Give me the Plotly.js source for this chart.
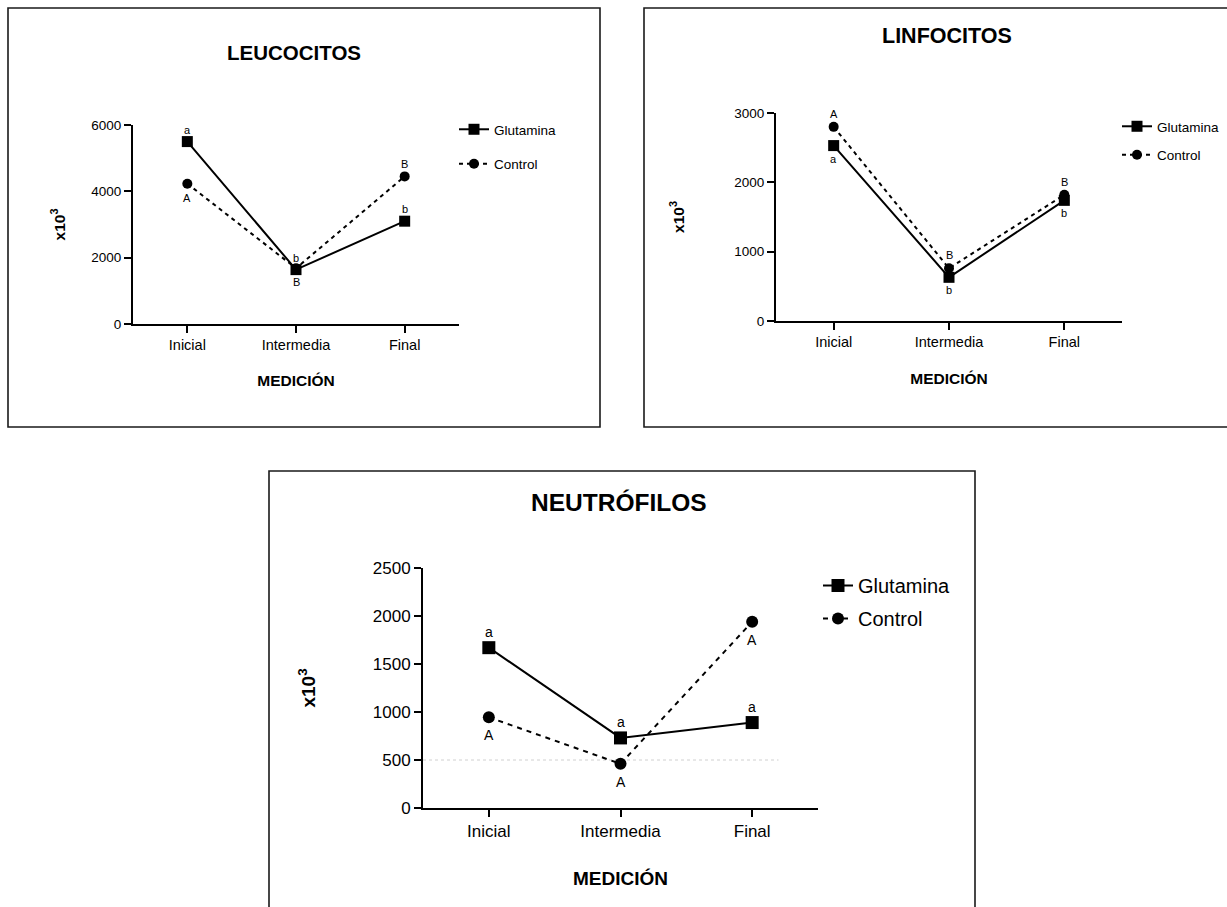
<!DOCTYPE html>
<html>
<head>
<meta charset="utf-8">
<script src="https://cdn.plot.ly/plotly-3.0.1.min.js"></script>
<style>html,body{margin:0;padding:0;background:#fff;}#chart{width:1227px;height:907px;}</style>
</head>
<body>
<div id="chart"></div>
<script>
// ---------- DATA ----------
const categories = ['Inicial', 'Intermedia', 'Final'];
const seriesNames = ['Glutamina', 'Control'];
const panelTitles = ['LEUCOCITOS', 'LINFOCITOS', 'NEUTRÓFILOS'];
const xAxisTitle = 'MEDICIÓN';
const yAxisTitle = 'x10<sup>3</sup>';

const leucGlutamina = [5500, 1640, 3100];
const leucControl = [4230, 1680, 4450];
const leucGlutLetters = ['a', 'b', 'b'];
const leucControlLetters = ['A', 'B', 'B'];
const leucTicks = [0, 2000, 4000, 6000];

const linfGlutamina = [2530, 630, 1740];
const linfControl = [2800, 760, 1820];
const linfGlutLetters = ['a', 'b', 'b'];
const linfControlLetters = ['A', 'B', 'B'];
const linfTicks = [0, 1000, 2000, 3000];

const neutGlutamina = [1670, 730, 890];
const neutControl = [945, 460, 1940];
const neutGlutLetters = ['a', 'a', 'a'];
const neutControlLetters = ['A', 'A', 'A'];
const neutTicks = [0, 500, 1000, 1500, 2000, 2500];
const neutRefLine = 500;

// ---------- LAYOUT CONFIG ----------
const W = 1227, H = 907;
const px = v => v / W;
const py = v => 1 - v / H;
const FONT = 'Liberation Sans, Arial, Helvetica, sans-serif';

const panels = [
  {
    glut: leucGlutamina, ctrl: leucControl, gl: leucGlutLetters, cl: leucControlLetters, ticks: leucTicks,
    title: panelTitles[0],
    xdom: [133, 459], ydom: [125, 324],
    box: [8, 8, 600, 427],
    titlePos: [294, 52], titleSize: 20.5,
    tickSize: 13.5, xtickSize: 14.5, axTitleSize: 15.5, letterSize: 11,
    ystand: 22, xstand: 23,
    legendPos: [454, 114], legendSize: 13.5, legendGap: 14,
    glutShift: [1, 1, 1], ctrlShift: [-1, -1, 1], up: 12, down: 14,
    msq: 11, mci: 10, dash: '4px,4px', order: 'ctrlFirst'
  },
  {
    glut: linfGlutamina, ctrl: linfControl, gl: linfGlutLetters, cl: linfControlLetters, ticks: linfTicks,
    title: panelTitles[1],
    xdom: [776, 1122], ydom: [113, 321],
    box: [644, 8, 1240, 427],
    titlePos: [947, 36], titleSize: 21.5,
    tickSize: 13.5, xtickSize: 14.5, axTitleSize: 15.5, letterSize: 11,
    ystand: 46, xstand: 24,
    legendPos: [1117, 111], legendSize: 13.5, legendGap: 8,
    glutShift: [-1, -1, -1], ctrlShift: [1, 1, 1], up: 13, down: 13,
    msq: 11, mci: 10, dash: '4px,4px', order: 'glutFirst'
  },
  {
    glut: neutGlutamina, ctrl: neutControl, gl: neutGlutLetters, cl: neutControlLetters, ticks: neutTicks,
    title: panelTitles[2],
    xdom: [423, 818], ydom: [568, 808],
    box: [269, 471, 975, 920],
    titlePos: [619, 503], titleSize: 24.5,
    tickSize: 17, xtickSize: 17, axTitleSize: 19, letterSize: 14,
    ystand: 52, xstand: 31,
    legendPos: [818, 566], legendSize: 20, legendGap: 4,
    glutShift: [1, 1, 1], ctrlShift: [-1, -1, -1], up: 16, down: 18,
    msq: 13, mci: 12, dash: '5px,5px', order: 'glutFirst'
  }
];

const traces = [];
const annotations = [];
const shapes = [];
const layout = {
  width: W, height: H,
  margin: {l: 0, r: 0, t: 0, b: 0},
  paper_bgcolor: '#ffffff', plot_bgcolor: 'rgba(0,0,0,0)',
  font: {family: FONT, color: '#000'},
  showlegend: true
};

panels.forEach((p, i) => {
  const n = i + 1;
  const xa = n === 1 ? 'x' : 'x' + n;
  const ya = n === 1 ? 'y' : 'y' + n;
  const lg = n === 1 ? 'legend' : 'legend' + n;

  const glutTrace = {
    type: 'scatter', mode: 'lines+markers', x: categories, y: p.glut, name: seriesNames[0],
    xaxis: xa, yaxis: ya, legend: lg, legendgroup: 'g' + n, legendrank: 1,
    line: {color: '#000', width: 2},
    marker: {symbol: 'square', size: p.msq, color: '#000'},
    cliponaxis: false, hoverinfo: 'skip'
  };
  const ctrlTrace = {
    type: 'scatter', mode: 'lines+markers', x: categories, y: p.ctrl, name: seriesNames[1],
    xaxis: xa, yaxis: ya, legend: lg, legendgroup: 'c' + n, legendrank: 2,
    line: {color: '#000', width: 2, dash: p.dash},
    marker: {symbol: 'circle', size: p.mci, color: '#000'},
    cliponaxis: false, hoverinfo: 'skip'
  };
  if (p.order === 'ctrlFirst') { traces.push(ctrlTrace, glutTrace); }
  else { traces.push(glutTrace, ctrlTrace); }

  const axisCommon = {
    showline: true, linewidth: 2, linecolor: '#000', mirror: false,
    ticks: 'outside', ticklen: 7, tickwidth: 2, tickcolor: '#000',
    showgrid: false, zeroline: false, fixedrange: true
  };
  layout[n === 1 ? 'xaxis' : 'xaxis' + n] = Object.assign({}, axisCommon, {
    domain: [px(p.xdom[0]), px(p.xdom[1])], anchor: ya,
    type: 'category', categoryarray: categories, range: [-0.5, categories.length - 0.5],
    tickfont: {family: FONT, size: p.xtickSize, color: '#000'},
    title: {text: xAxisTitle, standoff: p.xstand, font: {family: FONT, size: p.axTitleSize, weight: 'bold', color: '#000'}}
  });
  layout[n === 1 ? 'yaxis' : 'yaxis' + n] = Object.assign({}, axisCommon, {
    domain: [py(p.ydom[1]), py(p.ydom[0])], anchor: xa,
    range: [0, p.ticks[p.ticks.length - 1]], tickvals: p.ticks,
    ticktext: p.ticks.map(String),
    tickfont: {family: FONT, size: p.tickSize, color: '#000'},
    title: {text: '<b>' + yAxisTitle + '</b>', standoff: p.ystand, font: {family: FONT, size: p.axTitleSize, weight: 'bold', color: '#000'}}
  });
  layout[lg] = {
    x: px(p.legendPos[0]), y: py(p.legendPos[1]), xanchor: 'left', yanchor: 'top',
    xref: 'paper', yref: 'paper',
    bgcolor: 'rgba(0,0,0,0)', borderwidth: 0,
    font: {family: FONT, size: p.legendSize, color: '#000'},
    tracegroupgap: p.legendGap, itemwidth: 30, itemclick: false, itemdoubleclick: false
  };

  // panel title
  annotations.push({
    xref: 'paper', yref: 'paper', x: px(p.titlePos[0]), y: py(p.titlePos[1]),
    xanchor: 'center', yanchor: 'middle', showarrow: false, text: p.title,
    font: {family: FONT, size: p.titleSize, weight: 'bold', color: '#000'}
  });

  // significance letters, anchored to the data points
  categories.forEach((c, k) => {
    annotations.push({
      xref: xa, yref: ya, x: c, y: p.glut[k], text: p.gl[k], showarrow: false,
      xanchor: 'center', yanchor: 'middle',
      yshift: p.glutShift[k] > 0 ? p.up : -p.down,
      font: {family: FONT, size: p.letterSize, color: '#000'}
    });
    annotations.push({
      xref: xa, yref: ya, x: c, y: p.ctrl[k], text: p.cl[k], showarrow: false,
      xanchor: 'center', yanchor: 'middle',
      yshift: p.ctrlShift[k] > 0 ? p.up : -p.down,
      font: {family: FONT, size: p.letterSize, color: '#000'}
    });
  });

  // panel frame
  shapes.push({
    type: 'rect', xref: 'paper', yref: 'paper',
    x0: px(p.box[0]), x1: px(p.box[2]), y0: py(p.box[3]), y1: py(p.box[1]),
    line: {color: '#1a1a1a', width: 1.6}, fillcolor: 'rgba(0,0,0,0)', layer: 'below'
  });
});

// faint dotted reference line in the NEUTRÓFILOS panel
shapes.push({
  type: 'line', xref: 'x3', yref: 'y3', x0: -0.5, x1: 2.2, y0: neutRefLine, y1: neutRefLine,
  line: {color: '#d0d0d0', width: 1, dash: 'dot'}, layer: 'below'
});

layout.annotations = annotations;
layout.shapes = shapes;

Plotly.newPlot('chart', traces, layout, {displayModeBar: false, staticPlot: true});
</script>
</body>
</html>
